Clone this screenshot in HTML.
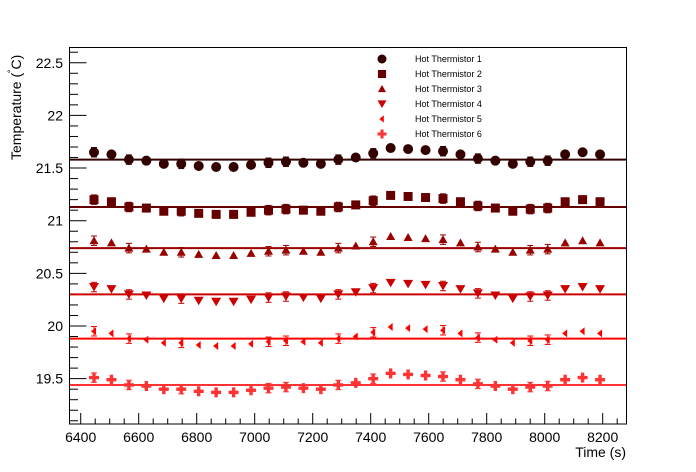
<!DOCTYPE html>
<html><head><meta charset="utf-8"><style>
html,body{margin:0;padding:0;background:#fff;}
svg{display:block;font-family:"Liberation Sans",Arial,sans-serif;}
</style></head><body>
<svg id="s" width="696" height="472" viewBox="0 0 696 472" xmlns="http://www.w3.org/2000/svg">
<rect x="0" y="0" width="696" height="472" fill="#fff"/>
<rect x="69.5" y="47.5" width="557" height="376.5" fill="none" stroke="#000" stroke-width="1"/>
<g id="ax"></g>
<g id="data"></g>
<g id="leg" font-size="9" fill="#000"></g>
<text transform="translate(21,160) rotate(-90)" font-size="14" text-anchor="start">Temperature (<tspan dy="-5" font-size="10">˚</tspan><tspan dy="5">C)</tspan></text>
<text x="626" y="457" font-size="14" text-anchor="end">Time (s)</text>
</svg>
<script>
const NS="http://www.w3.org/2000/svg";
function el(p,t,a,txt){const e=document.createElementNS(NS,t);for(const k in a)e.setAttribute(k,a[k]);if(txt!=null)e.textContent=txt;p.appendChild(e);return e;}
const Y=v=>326-(v-20)*105.3, X=t=>80.7+(t-6400)*0.29;
const ax=document.getElementById('ax');
for(let i=191;i<=226;i++){const v=i/10;const y=Y(v);if(y<48||y>424)continue;const maj=i%5==0;
 el(ax,'line',{x1:69.5,x2:69.5+(maj?17:8.5),y1:y,y2:y,stroke:'#000','stroke-width':1});
 if(maj)el(ax,'text',{x:63,y:y+5,'font-size':14,'text-anchor':'end'},(Number.isInteger(v)?v:v.toFixed(1)));}
for(let t=6400;t<=8250;t+=50){const x=X(t);if(x<70||x>626)continue;const maj=t%200==0;
 el(ax,'line',{x1:x,x2:x,y1:424,y2:424-(maj?11:5.5),stroke:'#000','stroke-width':1});
 if(maj)el(ax,'text',{x:x,y:442,'font-size':14,'text-anchor':'middle'},t);}
const base=[21.65,21.63,21.58,21.57,21.54,21.54,21.52,21.51,21.51,21.53,21.55,21.56,21.55,21.54,21.58,21.6,21.64,21.69,21.68,21.67,21.66,21.63,21.59,21.57,21.54,21.56,21.57,21.63,21.65,21.63];
const err=[1,0,1,0,0,1,0,0,0,0,1,1,0,0,1,0,1,0,0,0,1,0,1,0,0,1,1,0,0,0];
const lines=[21.58,21.13,20.74,20.30,19.88,19.44];
const cols=['#330000','#660000','#990000','#cc0000','#ff0000','#ff3333'];
const d=document.getElementById('data');
function marker(g,k,x,y,c,s){
 if(k==0)el(g,'circle',{cx:x,cy:y,r:5*s,fill:c});
 else if(k==1)el(g,'rect',{x:x-4.5*s,y:y-4.5*s,width:9*s,height:9*s,fill:c});
 else if(k==2)el(g,'polygon',{points:`${x},${y-4.5*s} ${x+4.5*s},${y+3.5*s} ${x-4.5*s},${y+3.5*s}`,fill:c});
 else if(k==3)el(g,'polygon',{points:`${x-5*s},${y-4*s} ${x+5*s},${y-4*s} ${x},${y+4.5*s}`,fill:c});
 else if(k==4)el(g,'polygon',{points:`${x-3*s},${y} ${x+2*s},${y-4*s} ${x+2*s},${y+4*s}`,fill:c});
 else {el(g,'rect',{x:x-5*s,y:y-1.7*s,width:10*s,height:3.4*s,fill:c});el(g,'rect',{x:x-1.7*s,y:y-5*s,width:3.4*s,height:10*s,fill:c});}
}
for(let k=0;k<6;k++){const c=cols[k];const ly=Y(lines[k]);
 el(d,'line',{x1:70,x2:626,y1:ly,y2:ly,stroke:c,'stroke-width':2});
 for(let i=0;i<30;i++){const x=94+i*17.45;const v=base[i]-21.58+lines[k];const y=Y(v);
  if(err[i]){const e=0.045*105.3;el(d,'line',{x1:x,x2:x,y1:y-e,y2:y+e,stroke:c,'stroke-width':1});
   el(d,'line',{x1:x-3,x2:x+3,y1:y-e,y2:y-e,stroke:c});el(d,'line',{x1:x-3,x2:x+3,y1:y+e,y2:y+e,stroke:c});}
  marker(d,k,x,y,c,1);}
}
const lg=document.getElementById('leg');
const names=['Hot Thermistor 1','Hot Thermistor 2','Hot Thermistor 3','Hot Thermistor 4','Hot Thermistor 5','Hot Thermistor 6'];
for(let k=0;k<6;k++){const y=59+k*15;marker(lg,k,382,y,cols[k],0.9);el(lg,'text',{x:415,y:y+3},names[k]);}
</script>
</body></html>
